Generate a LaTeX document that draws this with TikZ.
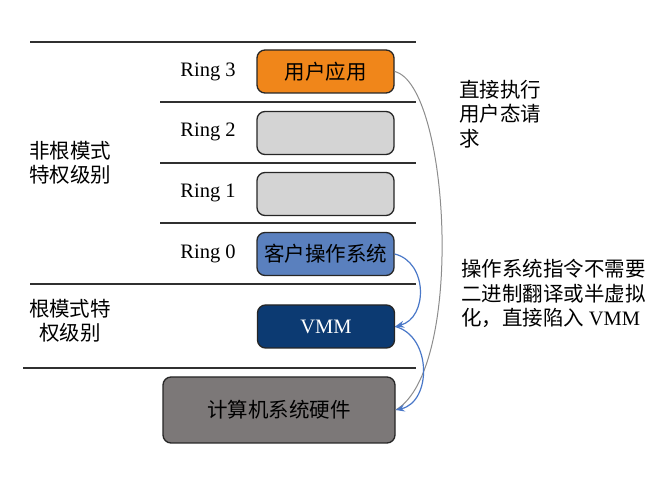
\documentclass[tikz,border=0pt]{standalone}
\usepackage{fontspec}
\setmainfont{Liberation Serif}
\newfontfamily\cjk{Noto Sans CJK SC}
\usetikzlibrary{arrows.meta}
\definecolor{orangefill}{HTML}{F0861A}
\definecolor{lightfill}{HTML}{D4D4D4}
\definecolor{osfill}{HTML}{5A80BE}
\definecolor{vmmfill}{HTML}{0C3A72}
\definecolor{hwfill}{HTML}{7C7878}
\definecolor{arrowblue}{HTML}{4A78C8}
\definecolor{sepline}{HTML}{303030}
\begin{document}
\begin{tikzpicture}[x=1pt,y=-1pt,
  sep/.style={line width=1.8pt,draw=sepline},
  ringbox/.style={draw=black!85,line width=1.3pt,rounded corners=8pt,minimum width=137pt,minimum height=43pt,inner sep=0pt,font=\fontsize{20.5}{22}\selectfont\cjk},
  ringlabel/.style={font=\fontsize{20.5}{22}\selectfont,inner sep=0pt},
  sidelabel/.style={font=\fontsize{20.5}{24.5}\selectfont\cjk,inner sep=0pt,anchor=north west,align=left},
  bluearrow/.style={draw=arrowblue,line width=1.2pt,-{Stealth[length=9pt,width=7pt]}},
  grayarc/.style={draw=black!45,line width=1pt}
]
\useasboundingbox (0,0) rectangle (670,478);
% separator lines
\draw[sep] (30,42) -- (416,42);
\draw[sep] (160,102) -- (416,102);
\draw[sep] (160,163) -- (416,163);
\draw[sep] (160,223) -- (416,223);
\draw[sep] (30,284) -- (416,284);
\draw[sep] (23,368) -- (416,368);
% ring labels
\node[ringlabel] (r3) at (208,72) {Ring 3};
\node[ringlabel] (r2) at (208,132) {Ring 2};
\node[ringlabel] (r1) at (208,193) {Ring 1};
\node[ringlabel] (r0) at (208,254) {Ring 0};
% boxes
\node[ringbox,fill=orangefill] (app) at (325.5,71.5) {用户应用};
\node[ringbox,fill=lightfill] (b2) at (325.5,133) {};
\node[ringbox,fill=lightfill] (b1) at (325.5,194) {};
\node[ringbox,fill=osfill] (os) at (325.5,254) {客户操作系统};
\node[ringbox,fill=vmmfill,text=white,font=\fontsize{20.5}{22}\selectfont] (vmm) at (326,326.5) {VMM};
\node[ringbox,fill=hwfill,minimum width=232pt,minimum height=66pt] (hw) at (279,410) {计算机系统硬件};
% left labels
\node[sidelabel] (nonroot) at (29,141) {非根模式\\特权级别};
\node[sidelabel,align=center,anchor=north] (root) at (70,299) {根模式特\\权级别};
% right labels
\node[sidelabel] (t1) at (459,80) {直接执行\\用户态请\\求};
\node[sidelabel] (t2) at (461,259) {操作系统指令不需要\\二进制翻译或半虚拟\\化，直接陷入 {\rmfamily VMM}};
% arcs
\draw[grayarc] (app.east) .. controls (450,85) and (465,370) .. (hw.east);
\draw[bluearrow] (os.east) .. controls (428,262) and (428,318) .. (vmm.east);
\draw[bluearrow] (vmm.east) .. controls (432,336) and (432,402) .. (hw.east);
\end{tikzpicture}
\end{document}
